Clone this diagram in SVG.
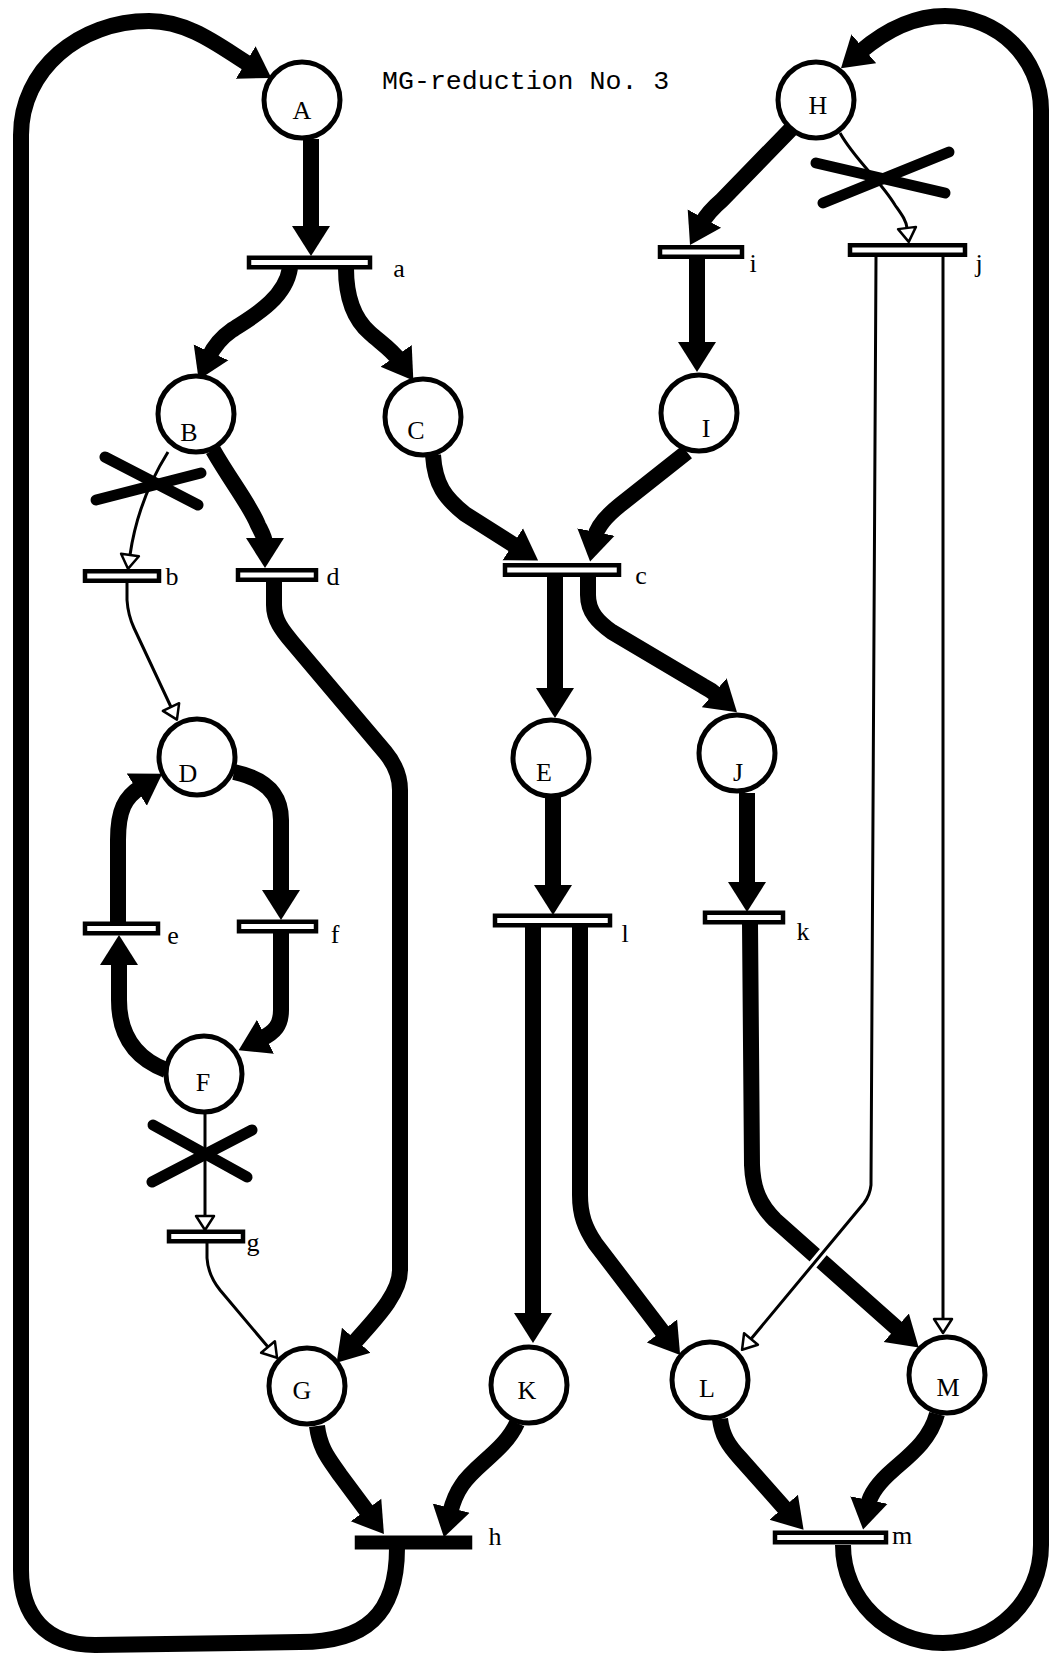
<svg xmlns="http://www.w3.org/2000/svg" width="1053" height="1657" viewBox="0 0 1053 1657">
<defs>
<marker id="big" viewBox="0 -20 30 40" refX="5" refY="0" markerWidth="30" markerHeight="40" markerUnits="userSpaceOnUse" orient="auto"><path d="M0,-19 L30,0 L0,19 Z" fill="#000"/></marker>
<marker id="small" viewBox="-2 -11 19 22" refX="0" refY="0" markerWidth="19" markerHeight="22" markerUnits="userSpaceOnUse" orient="auto"><path d="M0,-9 L14,0 L0,9 Z" fill="#fff" stroke="#000" stroke-width="2.5" stroke-linejoin="round"/></marker>
<style>
.thick{fill:none;stroke:#000;stroke-width:16;marker-end:url(#big)}
.thin{fill:none;stroke:#000;stroke-width:3;marker-end:url(#small)}
.halo{fill:none;stroke:#fff;stroke-width:9}
.place{fill:#fff;stroke:#000;stroke-width:5}
.bar{fill:#fff;stroke:#000;stroke-width:4.5}
.barf{fill:#000;stroke:#000;stroke-width:4.5}
.x{stroke:#000;stroke-width:11;stroke-linecap:round}
.lbl{font-family:"Liberation Serif",serif;font-size:26px;fill:#000;text-anchor:middle}
.tl{font-family:"Liberation Serif",serif;font-size:26px;fill:#000;text-anchor:middle}
.title{font-family:"Liberation Mono",monospace;font-size:26.6px;fill:#000}
</style>
</defs>
<rect width="1053" height="1657" fill="#fff"/>
<text class="title" x="382" y="89">MG-reduction No. 3</text>

<g id="connectors">
<path id="h-A" class="thick" d="M397,1548 C397,1615 365,1642 300,1642 L95,1645 C45,1645 21,1615 21,1570 L21,135 C21,70 79,21 149,21 C190,21 222,48 250,65"/>
<path id="m-H" class="thick" d="M843,1545 C843,1599 888,1643 943,1643 C998,1643 1041,1599 1041,1545 L1041,110 C1041,58 998,16 945,16 C915,16 887,29 860,52"/>
<path id="A-a" class="thick" d="M311,139 L311,231"/>
<path id="a-B" class="thick" d="M290,268 C285,300 250,318 232,330 C222,337 214,346 209,357"/>
<path id="a-C" class="thick" d="M346,268 C346,300 355,320 370,333 C380,342 392,350 399,360"/>
<path id="H-i" class="thick" d="M792,128 L722,200 Q708,212 702,223"/>
<path id="i-I" class="thick" d="M697,258 L697,347"/>
<path id="H-j" class="thin" d="M840,133 C855,160 880,180 895,205 C902,215 906,220 907,228"/>
<path id="B-b" class="thin" d="M168,452 Q138,500 130,555"/>
<path id="B-d" class="thick" d="M213,450 C230,480 250,505 258,525 C262,533 265,538 265,543"/>
<path id="d-G" class="thick" d="M274,582 L274,605 C274,620 282,630 292,642 L385,752 C395,764 400,775 400,790 L400,1270 C400,1295 373,1321 353,1344"/>
<path id="b-D" class="thin" d="M127,583 L127,600 Q128,615 134,628 L171,707"/>
<path id="C-c" class="thick" d="M433,455 C435,485 445,498 465,514 L517,547"/>
<path id="I-c" class="thick" d="M687,452 L620,505 C605,517 597,527 595,537"/>
<path id="c-E" class="thick" d="M555,577 L555,693"/>
<path id="c-J" class="thick" d="M588,577 L588,595 C588,612 598,622 612,632 L703,686 Q711,690 718,696"/>
<path id="E-l" class="thick" d="M553,797 L553,890"/>
<path id="J-k" class="thick" d="M747,793 L747,887"/>
<path id="l-K" class="thick" d="M533,927 L533,1318"/>
<path id="l-L" class="thick" d="M580,927 L580,1195 C580,1215 585,1228 595,1243 L665,1335"/>
<path id="k-M" class="thick" d="M750,923 L752,1165 C753,1190 760,1205 775,1220 L900,1331"/>
<path class="halo" d="M831,1243 L805,1274"/>
<path id="j-L" class="thin" d="M876,257 L871,1185 Q870,1195 864,1203 L751,1339"/>
<path id="j-M" class="thin" d="M943,257 L943,1319"/>
<path id="G-h" class="thick" d="M317,1426 C320,1450 330,1460 340,1475 L369,1514"/>
<path id="K-h" class="thick" d="M517,1423 C505,1450 475,1465 462,1485 C455,1495 452,1505 450,1513"/>
<path id="L-m" class="thick" d="M720,1419 C722,1435 728,1445 740,1458 L787,1511"/>
<path id="M-m" class="thick" d="M937,1414 C930,1440 910,1455 893,1470 C878,1483 870,1495 868,1505"/>
<path id="D-f" class="thick" d="M234,772 C262,778 281,792 281,820 L281,895"/>
<path id="f-F" class="thick" d="M281,933 L281,1010 C281,1025 275,1032 261,1039"/>
<path id="F-e" class="thick" d="M166,1070 C140,1060 119,1040 119,1000 L119,960"/>
<path id="e-D" class="thick" d="M118,922 L118,840 C118,810 125,797 141,787"/>
<path id="F-g" class="thin" d="M205,1114 L205,1216"/>
<path id="g-G" class="thin" d="M207,1243 L207,1258 Q208,1275 220,1290 L268,1347"/>
</g>

<g id="crosses">
<line class="x" x1="816" y1="163" x2="945" y2="193"/><line class="x" x1="823" y1="203" x2="949" y2="152"/>
<line class="x" x1="105" y1="457" x2="198" y2="505"/><line class="x" x1="96" y1="500" x2="201" y2="473"/>
<line class="x" x1="153" y1="1125" x2="247" y2="1177"/><line class="x" x1="152" y1="1182" x2="252" y2="1130"/>
</g>

<g id="A"><circle class="place" cx="302" cy="100" r="38"/><text class="lbl" x="302" y="119">A</text></g>
<g id="H"><circle class="place" cx="816" cy="100" r="38"/><text class="lbl" x="818" y="114">H</text></g>
<g id="B"><circle class="place" cx="196" cy="414" r="38"/><text class="lbl" x="189" y="441">B</text></g>
<g id="C"><circle class="place" cx="423" cy="417" r="38"/><text class="lbl" x="416" y="439">C</text></g>
<g id="I"><circle class="place" cx="699" cy="413" r="38"/><text class="lbl" x="706" y="437">I</text></g>
<g id="D"><circle class="place" cx="197" cy="757" r="38"/><text class="lbl" x="188" y="782">D</text></g>
<g id="E"><circle class="place" cx="551" cy="758" r="38"/><text class="lbl" x="544" y="781">E</text></g>
<g id="J"><circle class="place" cx="737" cy="753" r="38"/><text class="lbl" x="738" y="781">J</text></g>
<g id="F"><circle class="place" cx="204" cy="1074" r="38"/><text class="lbl" x="203" y="1091">F</text></g>
<g id="G"><circle class="place" cx="307" cy="1386" r="38"/><text class="lbl" x="302" y="1399">G</text></g>
<g id="K"><circle class="place" cx="529" cy="1385" r="38"/><text class="lbl" x="527" y="1399">K</text></g>
<g id="L"><circle class="place" cx="710" cy="1380" r="38"/><text class="lbl" x="707" y="1397">L</text></g>
<g id="M"><circle class="place" cx="947" cy="1375" r="38"/><text class="lbl" x="948" y="1396">M</text></g>

<g id="t-a"><rect class="bar" x="249" y="257.75" width="121" height="9.5"/><text class="tl" x="399" y="277">a</text></g>
<g id="t-i"><rect class="bar" x="660" y="247.25" width="82" height="9.5"/><text class="tl" x="753" y="272">i</text></g>
<g id="t-j"><rect class="bar" x="850" y="245.25" width="115" height="9.5"/><text class="tl" x="979" y="272">j</text></g>
<g id="t-b"><rect class="bar" x="85" y="571.25" width="74" height="9.5"/><text class="tl" x="172" y="585">b</text></g>
<g id="t-d"><rect class="bar" x="238" y="570.25" width="78" height="9.5"/><text class="tl" x="333" y="585">d</text></g>
<g id="t-c"><rect class="bar" x="505" y="565.25" width="114" height="9.5"/><text class="tl" x="641" y="584">c</text></g>
<g id="t-e"><rect class="bar" x="85" y="923.75" width="73" height="9.5"/><text class="tl" x="173" y="944">e</text></g>
<g id="t-f"><rect class="bar" x="239" y="921.75" width="77" height="9.5"/><text class="tl" x="335" y="943">f</text></g>
<g id="t-l"><rect class="bar" x="495" y="915.75" width="115" height="9.5"/><text class="tl" x="625" y="942">l</text></g>
<g id="t-k"><rect class="bar" x="705" y="912.75" width="78" height="9.5"/><text class="tl" x="803" y="940">k</text></g>
<g id="t-g"><rect class="bar" x="169" y="1231.75" width="74" height="9.5"/><text class="tl" x="253" y="1251">g</text></g>
<g id="t-h"><rect class="barf" x="357" y="1537.75" width="113" height="9.5"/><text class="tl" x="495" y="1545">h</text></g>
<g id="t-m"><rect class="bar" x="775" y="1532.75" width="111" height="9.5"/><text class="tl" x="902" y="1544">m</text></g>
</svg>
